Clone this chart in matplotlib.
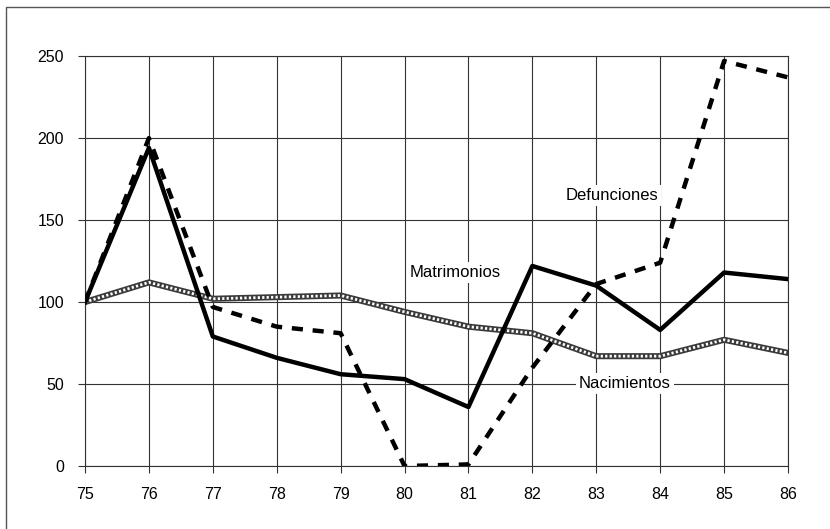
import matplotlib
matplotlib.use("Agg")
import matplotlib.pyplot as plt
from matplotlib.patches import Rectangle

plt.rcParams['font.family'] = ['Liberation Sans', 'DejaVu Sans']

# years (two digits) and index values
years = [75, 76, 77, 78, 79, 80, 81, 82, 83, 84, 85, 86]
matrimonios = [100, 194, 79, 66, 56, 53, 36, 122, 110, 83, 118, 114]
defunciones = [100, 200, 97, 85, 81, 0, 1, 60, 111, 124, 247, 237]
nacimientos = [100, 112, 102, 103, 104, 94, 85, 81, 67, 67, 77, 69]

y_ticks = [0, 50, 100, 150, 200, 250]

fig = plt.figure(figsize=(8.3, 5.29), dpi=100)
ax = fig.add_axes([0.1024, 0.119, 0.847, 0.775])

# outer frame of the figure (only top and left edges visible in the scan)
fig.patches.append(Rectangle((0.007, -0.1), 1.2, 1.087, transform=fig.transFigure,
                             fill=False, edgecolor='#555555', linewidth=1.0))

ax.set_xlim(75, 86)
ax.set_ylim(0, 250)
ax.set_xticks(years)
ax.set_yticks(y_ticks)
ax.grid(True, color='#333333', linewidth=0.8)
ax.set_axisbelow(True)
for s in ax.spines.values():
    s.set_color('#333333')
    s.set_linewidth(0.8)
ax.tick_params(direction='out', length=5, width=0.8, color='#333333',
               labelsize=11.5, pad=10)

# nacimientos: grey chain-like line
ax.plot(years, nacimientos, color='#3a3a3a', linewidth=4.4, solid_capstyle='round', zorder=3)
ax.plot(years, nacimientos, color='white', linewidth=2.0,
        dashes=(0.8, 0.8), zorder=4)

ax.plot(years, matrimonios, color='black', linewidth=3.2, zorder=5)
ax.plot(years, defunciones, color='black', linewidth=3.2, dashes=(2.5, 2.2), zorder=5)

box = dict(facecolor='white', edgecolor='none', pad=2)
ax.text(80.8, 118, 'Matrimonios', fontsize=12, ha='center', va='center', bbox=box, zorder=2)
ax.text(83.25, 165, 'Defunciones', fontsize=12, ha='center', va='center', bbox=box, zorder=2)
ax.text(83.45, 50.5, 'Nacimientos', fontsize=12, ha='center', va='center', bbox=box, zorder=2)

fig.savefig('out.png', dpi=100)
